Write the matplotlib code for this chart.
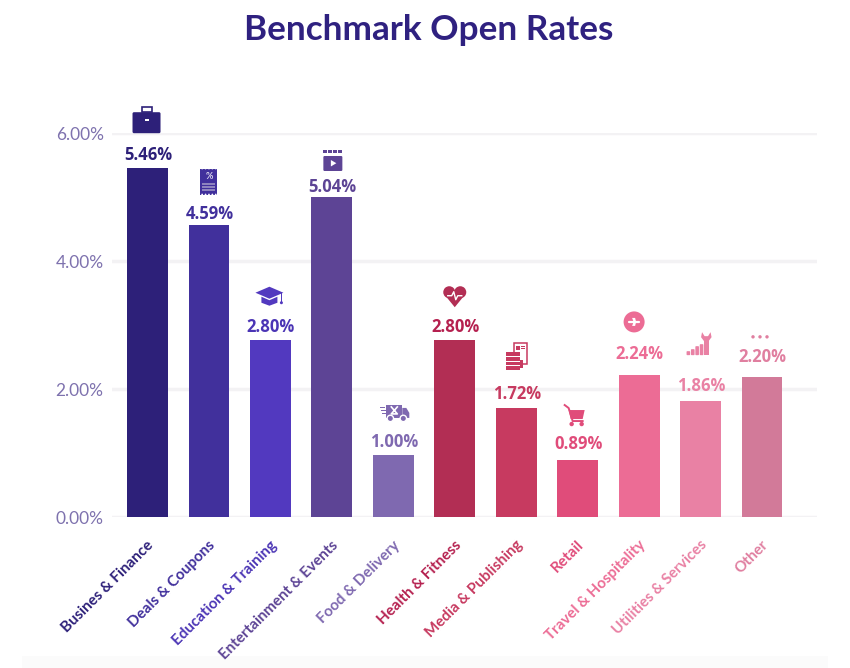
import matplotlib
matplotlib.use("Agg")
import matplotlib.pyplot as plt
from matplotlib.patches import Rectangle, Circle, Polygon, FancyBboxPatch

plt.rcParams['font.family'] = ['Lato', 'DejaVu Sans']

categories = ["Busines & Finance", "Deals & Coupons", "Education & Training",
              "Entertainment & Events", "Food & Delivery", "Health & Fitness",
              "Media & Publishing", "Retail", "Travel & Hospitality",
              "Utilities & Services", "Other"]
bar_heights = [5.45, 4.57, 2.77, 5.00, 0.97, 2.77, 1.70, 0.89, 2.22, 1.81, 2.19]
value_labels = ["5.46%", "4.59%", "2.80%", "5.04%", "1.00%", "2.80%",
                "1.72%", "0.89%", "2.24%", "1.86%", "2.20%"]
bar_colors = ["#2D2079", "#41309C", "#5239BF", "#5D4495", "#7F69B0", "#B22E54",
              "#C73A60", "#E04C7A", "#EC6C95", "#E981A4", "#D27A99"]
text_colors = ["#2D2079", "#41309C", "#4B35B5", "#5D4495", "#7F69B0", "#B5204F",
               "#C73A60", "#E04C7A", "#EC6C95", "#E981A4", "#E07FA0"]
y_ticks = [0, 2, 4, 6]
y_tick_labels = ["0.00%", "2.00%", "4.00%", "6.00%"]

# Layout, in pixels above the bar top
label_gap = [13, 11, 13, 10, 13, 13, 14, 16, 21, 15, 20]
icon_gap = [48, 43, 44, 37, 42, 43, 50, 45, 53, 56, 40]

W, H = 850, 668
fig = plt.figure(figsize=(W / 100, H / 100), dpi=100)
L, R, T, B = 112, 817, 133, 517
ax = fig.add_axes([L / W, 1 - B / H, (R - L) / W, (B - T) / H])
ax.set_xlim(-0.578, 10.895)
ax.set_ylim(0, 6)
ax.patch.set_alpha(0)
for s in ax.spines.values():
    s.set_visible(False)
ax.set_axisbelow(True)
ax.yaxis.grid(True, color="#F3F2F4", lw=2.5)
ax.xaxis.grid(False)
ax.tick_params(length=0)
ax.set_yticks(y_ticks, y_tick_labels, color="#7E72AE", fontsize=12.5)
ax.tick_params(axis='y', pad=6)
ax.set_xticks(range(len(categories)), [""] * len(categories))

x = list(range(len(categories)))
ax.bar(x, bar_heights, width=0.665, color=bar_colors, zorder=3, clip_on=False)

# overlay in pixel coordinates
ov = fig.add_axes([0, 0, 1, 1], zorder=5)
ov.set_xlim(0, W)
ov.set_ylim(H, 0)
ov.axis("off")
ov.add_patch(Rectangle((22, 656), 806, 12, fc="#FBFBFB", ec="none", zorder=0))

def add(p):
    ov.add_patch(p)

def briefcase(c, x, y):
    add(FancyBboxPatch((x - 14, y - 8), 28, 21, boxstyle="round,pad=0,rounding_size=1.5", fc=c, ec="none"))
    add(Rectangle((x - 5, y - 13), 10, 5, fc="none", ec=c, lw=1.2))
    add(Rectangle((x - 2, y - 1), 4, 2, fc="white", ec="none"))

def receipt(c, x, y):
    add(Rectangle((x - 8.5, y - 13), 17, 26, fc=c, ec="none"))
    for i in range(5):
        add(Circle((x - 6.8 + i * 3.4, y - 13), 0.9, fc="white", ec="none"))
        add(Circle((x - 6.8 + i * 3.4, y + 13), 0.9, fc="white", ec="none"))
    ov.text(x, y - 5, "%", color="#DAD6EC", fontsize=6.5, fontweight="bold", ha="center", va="center")
    for j in range(3):
        add(Rectangle((x - 6.5, y + 1 + j * 3.4), 13, 2, fc="#8E83BE", ec="none"))

def clapper(c, x, y):
    for i in range(4):
        add(Rectangle((x - 9.5 + i * 5, y - 10), 3.4, 3, fc=c, ec="none"))
    add(FancyBboxPatch((x - 9.5, y - 4), 19, 15, boxstyle="round,pad=0,rounding_size=1.2", fc=c, ec="none"))
    add(Polygon([(x - 2, y), (x - 2, y + 6.5), (x + 3.5, y + 3.2)], fc="white", ec="none"))

def cap(c, x, y):
    add(Polygon([(x - 14, y - 3), (x, y - 9), (x + 14, y - 3), (x, y + 3)], fc=c, ec="none"))
    add(Polygon([(x - 8, y + 1), (x, y + 4.5), (x + 8, y + 1), (x + 8, y + 7), (x, y + 10), (x - 8, y + 7)], fc=c, ec="none"))
    add(Rectangle((x + 11.5, y - 3), 1.2, 9, fc=c, ec="none"))
    add(Circle((x + 12, y + 7), 1.5, fc=c, ec="none"))

def truck(c, x, y):
    add(Rectangle((x - 8, y - 8), 16, 13, fc=c, ec="none"))
    add(Polygon([(x + 8, y - 5), (x + 12, y - 5), (x + 15, y), (x + 15, y + 5), (x + 8, y + 5)], fc=c, ec="none"))
    for wx in (x - 4, x + 9):
        add(Circle((wx, y + 5.5), 3.2, fc=c, ec="white", lw=1))
    ov.plot([x - 3, x + 3, x - 3, x + 3], [y - 6, y + 1, y + 1, y - 6], color="white", lw=1.2)
    for k in range(3):
        add(Rectangle((x - 14 + k, y - 6 + k * 3), 5, 1.2, fc=c, ec="none"))

def heart(c, x, y):
    add(Circle((x - 5.5, y - 4.5), 6, fc=c, ec="none"))
    add(Circle((x + 5.5, y - 4.5), 6, fc=c, ec="none"))
    add(Polygon([(x - 11, y - 3), (x + 11, y - 3), (x, y + 10.5)], fc=c, ec="none"))
    add(Rectangle((x - 5, y - 6), 10, 5, fc=c, ec="none"))
    ov.plot([x - 7, x - 3, x - 1, x + 1, x + 3, x + 7], [y - 1, y - 1, y - 5, y + 3, y - 1, y - 1], color="white", lw=1)

def film(c, x, y):
    add(Rectangle((x - 2, y - 15), 13, 21, fc="white", ec=c, lw=1.1))
    add(Rectangle((x, y - 12), 4, 4, fc=c, ec="none"))
    for k in range(2):
        add(Rectangle((x + 5, y - 12 + 2 * k), 4, 0.9, fc=c, ec="none"))
    add(Rectangle((x - 10, y - 6), 14, 18, fc=c, ec="none"))
    for k in range(3):
        add(Rectangle((x - 10, y - 2 + k * 4.5), 14, 1, fc="white", ec="none"))
    add(Rectangle((x + 4, y + 2), 3, 8, fc=c, ec="none"))

def cart(c, x, y):
    add(Polygon([(x - 6, y - 5), (x + 10, y - 5), (x + 8, y + 4), (x - 4, y + 4)], fc=c, ec="none"))
    ov.plot([x - 10, x - 6, x - 2, x + 8], [y - 10, y - 7, y + 6, y + 6], color=c, lw=1.4)
    add(Circle((x - 3, y + 9), 2.2, fc=c, ec="none"))
    add(Circle((x + 7, y + 9), 2.2, fc=c, ec="none"))

def plane(c, x, y):
    add(Circle((x, y), 10.5, fc=c, ec="none"))
    ov.plot([x - 5, x + 5], [y, y], color="white", lw=1.6, solid_capstyle="round")
    add(Polygon([(x - 2, y - 4), (x + 1, y - 4), (x + 2, y), (x + 1, y + 4), (x - 2, y + 4), (x - 0.5, y)], fc="white", ec="none"))

def tools(c, x, y):
    heights = [4, 6, 9, 11]
    for i, hh in enumerate(heights):
        add(FancyBboxPatch((x - 11 + i * 4.4, y + 10 - hh), 3.6, hh, boxstyle="round,pad=0,rounding_size=0.8", fc=c, ec="none"))
    add(Rectangle((x + 6.5, y - 6), 4.5, 16, fc=c, ec="none"))
    add(Polygon([(x + 4.5, y - 13), (x + 7, y - 9), (x + 10.5, y - 9), (x + 13, y - 13), (x + 14, y - 8),
                 (x + 11, y - 4), (x + 6.5, y - 4), (x + 3.5, y - 8)], fc=c, ec="none"))

def dots(c, x, y):
    for dx in (-7, 0, 7):
        add(Circle((x + dx, y), 1.7, fc=c, ec="none"))

icon_funcs = [briefcase, receipt, cap, clapper, truck, heart, film, cart, plane, tools, dots]
icon_dx = [-1, 0, -1, 1, 1, 0, 0, -3, -5, -3, -2]

fig.text(429 / W, 1 - 30 / H, "Benchmark Open Rates", color="#2F2180", fontsize=25.3,
         fontweight="bold", ha="center", va="center")

for i, cat in enumerate(categories):
    px, py = ax.transData.transform((i, bar_heights[i]))
    px_top = H - py
    ov.text(px + 0.5, px_top - label_gap[i], value_labels[i], color=text_colors[i], fontsize=12,
            fontweight="bold", family="Open Sans", ha="center", va="center")
    icon_funcs[i](bar_colors[i] if i != 10 else text_colors[i], px + icon_dx[i], px_top - icon_gap[i])
    ov.text(px - 1, 538, cat, color=text_colors[i], fontsize=10.9, fontweight="bold",
            rotation=45, rotation_mode="anchor", ha="right", va="top")

fig.savefig("out.png", dpi=100)
